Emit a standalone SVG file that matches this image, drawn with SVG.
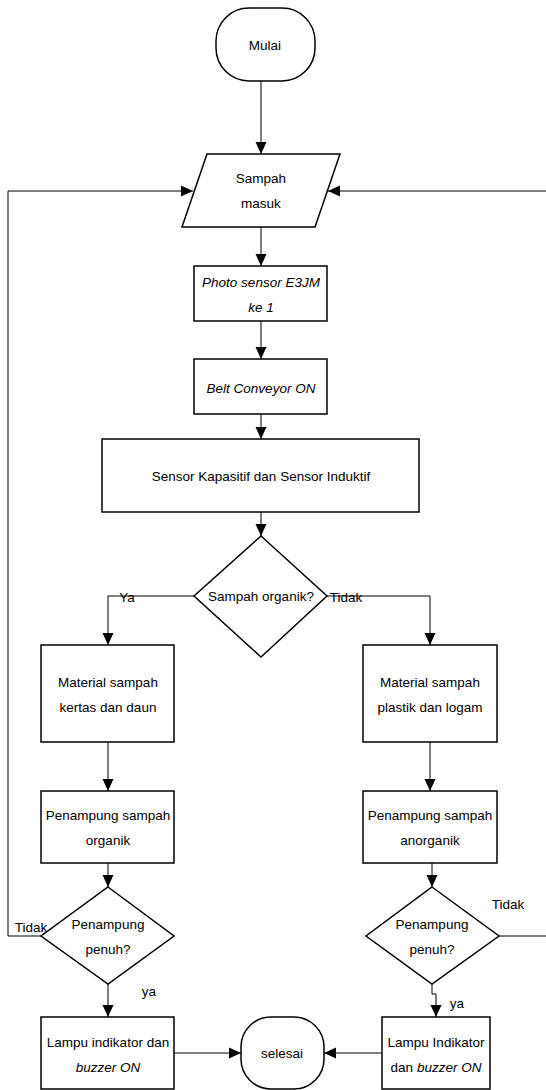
<svg xmlns="http://www.w3.org/2000/svg" width="546" height="1090" viewBox="0 0 546 1090">
<style>
.s{fill:#fff;stroke:#000;stroke-width:1.5}
.c{fill:none;stroke:#000;stroke-width:1}
text{font-family:"Liberation Sans",Arial,sans-serif;font-size:13.5px;fill:#000;text-anchor:middle}
.i{font-style:italic}
</style>
<defs>
<marker id="a" markerUnits="userSpaceOnUse" markerWidth="12" markerHeight="12" viewBox="0 0 12 12" refX="12" refY="6" orient="auto">
<path d="M0,0.5 L12,6 L0,11.5 Z" fill="#000"/>
</marker>
</defs>
<rect width="546" height="1090" fill="#fff"/>
<g id="connectors">
<path class="c" marker-end="url(#a)" d="M261,81 V154"/>
<path class="c" marker-end="url(#a)" d="M261,227 V266"/>
<path class="c" marker-end="url(#a)" d="M261,321 V359"/>
<path class="c" marker-end="url(#a)" d="M261,414 V439"/>
<path class="c" marker-end="url(#a)" d="M261,512 V536"/>
<path class="c" marker-end="url(#a)" d="M194,596 H108 V645"/>
<path class="c" marker-end="url(#a)" d="M327,596 H430 V645"/>
<path class="c" marker-end="url(#a)" d="M108,742 V791"/>
<path class="c" marker-end="url(#a)" d="M430,742 V791"/>
<path class="c" marker-end="url(#a)" d="M108,863 V887"/>
<path class="c" marker-end="url(#a)" d="M432,863 V887"/>
<path class="c" marker-end="url(#a)" d="M41,936 H8 V191 H193"/>
<path class="c" marker-end="url(#a)" d="M499,936 H546.5 V191 H328"/>
<path class="c" marker-end="url(#a)" d="M108,984 V1017"/>
<path class="c" marker-end="url(#a)" d="M432,984 V994 H436 V1017"/>
<path class="c" marker-end="url(#a)" d="M174,1053 H241"/>
<path class="c" marker-end="url(#a)" d="M382,1053 H324"/>
<text x="127" y="602">Ya</text>
<text x="346" y="602">Tidak</text>
<text x="31" y="932">Tidak</text>
<text x="508" y="909">Tidak</text>
<text x="149" y="996">ya</text>
<text x="457" y="1008">ya</text>
</g>
<g id="mulai"><rect class="s" x="216" y="8" width="99" height="73" rx="33" ry="33"/><text x="265" y="50">Mulai</text></g>
<g id="sampah-masuk"><path class="s" d="M207,154 H340 L315,227 H182 Z"/><text x="261" y="183">Sampah</text><text x="261" y="208">masuk</text></g>
<g id="photo-sensor"><rect class="s" x="194" y="266" width="133" height="55"/><text class="i" x="261" y="287">Photo sensor E3JM</text><text class="i" x="261" y="312">ke 1</text></g>
<g id="belt"><rect class="s" x="194" y="359" width="133" height="55"/><text class="i" x="261" y="393">Belt Conveyor ON</text></g>
<g id="sensor"><rect class="s" x="102" y="439" width="317" height="73"/><text x="261" y="481">Sensor Kapasitif dan Sensor Induktif</text></g>
<g id="organik-q"><path class="s" d="M261,536 L327,596 L261,657 L194,596 Z"/><text x="261" y="601">Sampah organik?</text></g>
<g id="material-organik"><rect class="s" x="41" y="645" width="133" height="97"/><text x="108" y="687">Material sampah</text><text x="108" y="712">kertas dan daun</text></g>
<g id="material-anorganik"><rect class="s" x="363" y="645" width="134" height="97"/><text x="430" y="687">Material sampah</text><text x="430" y="712">plastik dan logam</text></g>
<g id="penampung-organik"><rect class="s" x="41" y="791" width="133" height="72"/><text x="108" y="820">Penampung sampah</text><text x="108" y="845">organik</text></g>
<g id="penampung-anorganik"><rect class="s" x="363" y="791" width="134" height="72"/><text x="430" y="820">Penampung sampah</text><text x="430" y="845">anorganik</text></g>
<g id="penuh-kiri"><path class="s" d="M108,887 L174,936 L108,984 L41,936 Z"/><text x="108" y="929">Penampung</text><text x="108" y="954">penuh?</text></g>
<g id="penuh-kanan"><path class="s" d="M432,887 L499,936 L432,984 L366,936 Z"/><text x="432" y="929">Penampung</text><text x="432" y="954">penuh?</text></g>
<g id="lampu-kiri"><rect class="s" x="41" y="1017" width="133" height="72"/><text x="108" y="1047">Lampu indikator dan</text><text class="i" x="108" y="1072">buzzer  ON</text></g>
<g id="selesai"><rect class="s" x="241" y="1017" width="83" height="72" rx="30" ry="30"/><text x="282" y="1058">selesai</text></g>
<g id="lampu-kanan"><rect class="s" x="382" y="1017" width="108" height="72"/><text x="436" y="1047">Lampu Indikator</text><text x="436" y="1072">dan <tspan class="i">buzzer ON</tspan></text></g>
</svg>
